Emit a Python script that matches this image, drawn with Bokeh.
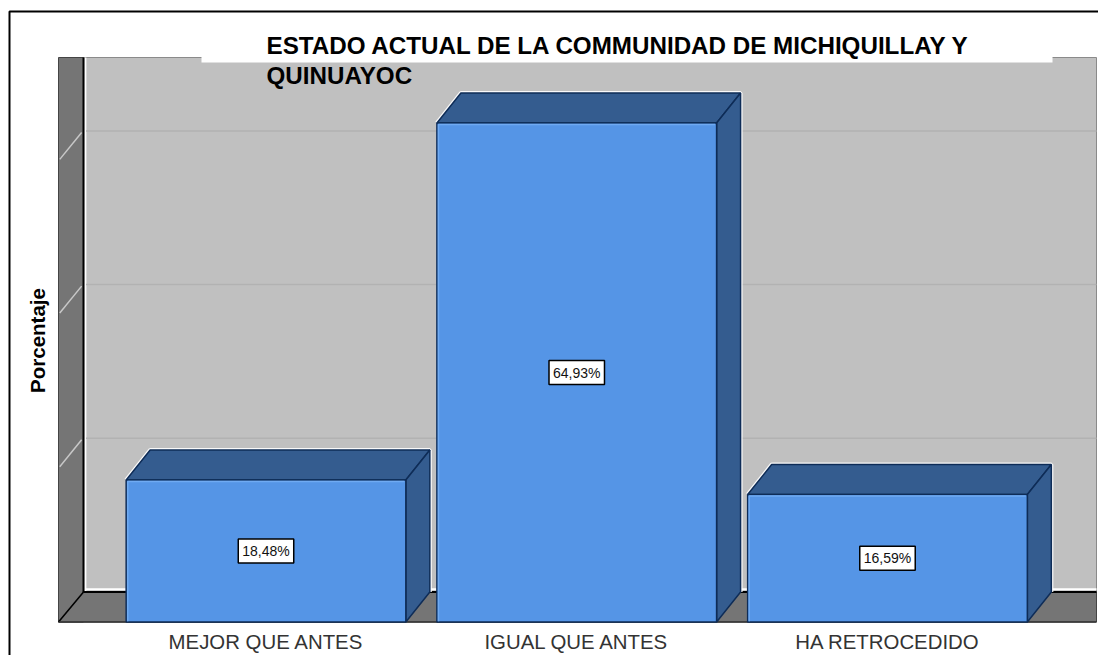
import math
from bokeh.plotting import figure
from bokeh.models import Range1d, FixedTicker, BoxAnnotation, Label, ColumnDataSource
from bokeh.core.properties import value
from bokeh.embed import file_html
from bokeh.resources import INLINE

title_lines = ["ESTADO ACTUAL DE LA COMMUNIDAD DE MICHIQUILLAY Y", "QUINUAYOC"]
categories = ["MEJOR QUE ANTES", "IGUAL QUE ANTES", "HA RETROCEDIDO"]
percentages = [18.48, 64.93, 16.59]
grid_values = [20, 40, 60]
y_label = "Porcentaje"

FONT = "Liberation Sans"
FRONT = "#5595E6"
DARK = "#345C8F"
EDGE = "#0E2C57"
WALL = "#757575"
BACK = "#C0C0C0"

# scale: one category = 310.75 px, one percent = 7.685 px
W, H = 1098, 655
PX_X, PX_Y = 310.75, 7.685
X0_PX, Y0_PX = 265.5, 621.5
X_START, X_END = (58 - X0_PX) / PX_X, (1096 - X0_PX) / PX_X
Y_END = (Y0_PX - 57) / PX_Y
DX, DY = 25 / PX_X, 30 / PX_Y
BAR_DX = 24 / PX_X
BAR_W = 0.9

p = figure(width=W, height=H, output_backend="svg", toolbar_location=None,
           x_range=Range1d(-X0_PX / PX_X, (W - X0_PX) / PX_X),
           y_range=Range1d((Y0_PX - H) / PX_Y, Y0_PX / PX_Y),
           min_border=0)
p.outline_line_color = None
p.background_fill_color = "white"
p.border_fill_color = "white"
p.grid.visible = False

xa = p.xaxis[0]
xa.fixed_location = 0
xa.ticker = FixedTicker(ticks=list(range(len(categories))))
xa.major_label_overrides = {i: c for i, c in enumerate(categories)}
xa.major_tick_line_color = None
xa.minor_tick_line_color = None
xa.major_tick_out = 0
xa.major_tick_in = 0
xa.axis_line_color = None
xa.major_label_text_font = FONT
xa.major_label_text_font_size = "20.4px"
xa.major_label_text_color = "#333333"
xa.major_label_standoff = 9
xa.major_label_text_baseline = "top"

p.yaxis.visible = False

# walls and floor
bx0 = X_START + DX
p.quad(left=bx0, right=X_END, bottom=DY, top=Y_END, fill_color=BACK, line_color="#8A8A8A", line_width=1)
p.quad(left=X_START, right=bx0, bottom=0, top=Y_END, fill_color=WALL, line_color="#444444", line_width=1)
p.patch([X_START, bx0, X_END, X_END], [0, DY, DY, 0], fill_color=WALL, line_color="#444444", line_width=1)
p.segment(bx0 + 0.005, DY + 0.35, X_END, DY + 0.35, line_color="white", line_width=2)
p.segment(bx0 + 0.006, DY, bx0 + 0.006, Y_END, line_color="white", line_width=2)
p.segment(bx0, DY, bx0, Y_END, line_color="black", line_width=2)
p.segment(bx0, DY, X_END, DY, line_color="black", line_width=2)
p.segment(X_START, 0, bx0, DY, line_color="black", line_width=1.5)
p.segment(X_START, 0, X_END, 0, line_color="#333333", line_width=1.5)

# grid on the back wall and its diagonals on the left wall
for g in grid_values:
    p.segment(bx0 + 0.008, g + DY, X_END, g + DY, line_color="#B2B2B2", line_width=1.5)
    p.segment(X_START + 0.004, g + 0.2, bx0 - 0.006, g + DY - 0.2, line_color="#C8C8C8", line_width=1.5)

# bars
for i, v in enumerate(percentages):
    x0, x1 = i - BAR_W / 2, i + BAR_W / 2
    xs = [x0, x0 + BAR_DX, x1 + BAR_DX, x1 + BAR_DX]
    ys = [v, v + DY, v + DY, DY]
    p.line(xs, ys, line_color="white", line_width=4, line_alpha=0.9)
    p.patch([x0, x0 + BAR_DX, x1 + BAR_DX, x1], [v, v + DY, v + DY, v], fill_color=DARK, line_color=EDGE, line_width=1.5)
    p.patch([x1, x1 + BAR_DX, x1 + BAR_DX, x1], [0, DY, v + DY, v], fill_color=DARK, line_color=EDGE, line_width=1.5)
    p.quad(left=x0, right=x1, bottom=0, top=v, fill_color=FRONT, line_color=EDGE, line_width=1.5)
    p.line([x0 + 0.005, x0 + 0.005, x1 - 0.005], [0.1, v - 0.2, v - 0.2], line_color="#6FAAF2", line_width=1.5)

src = ColumnDataSource(dict(
    x=list(range(len(percentages))),
    y=[v / 2 for v in percentages],
    t=[f"{v:.2f}%".replace(".", ",") for v in percentages],
))
p.text("x", "y", "t", source=src, text_font=value(FONT), text_font_size="14px", text_color="#111111",
       text_align="center", text_baseline="middle", background_fill_color="white",
       border_line_color="black", border_line_width=1.5, padding=4)

# page frame, white title band, title (screen units run from the lower left corner)
p.add_layout(BoxAnnotation(left=9, right=1200, top=H - 11, bottom=-100, left_units="screen", right_units="screen",
                           top_units="screen", bottom_units="screen", fill_alpha=0,
                           line_color="black", line_alpha=1, line_width=2))
p.add_layout(BoxAnnotation(left=201, right=1052, top=H - 20, bottom=H - 62, left_units="screen", right_units="screen",
                           top_units="screen", bottom_units="screen", fill_color="white", fill_alpha=1,
                           line_alpha=0))
for line, y in zip(title_lines, [H - 45, H - 75]):
    p.add_layout(Label(x=266, y=y, x_units="screen", y_units="screen", text=line, text_font=FONT,
                       text_font_size="24.2px", text_font_style="bold", text_color="black",
                       text_baseline="alphabetic"))
p.add_layout(Label(x=37, y=H - 340, x_units="screen", y_units="screen", text=y_label, text_font=FONT,
                   text_font_size="20.5px", text_font_style="bold", text_color="black",
                   text_align="center", text_baseline="middle", angle=math.pi / 2))

open("out.html", "w").write(file_html(p, INLINE))
